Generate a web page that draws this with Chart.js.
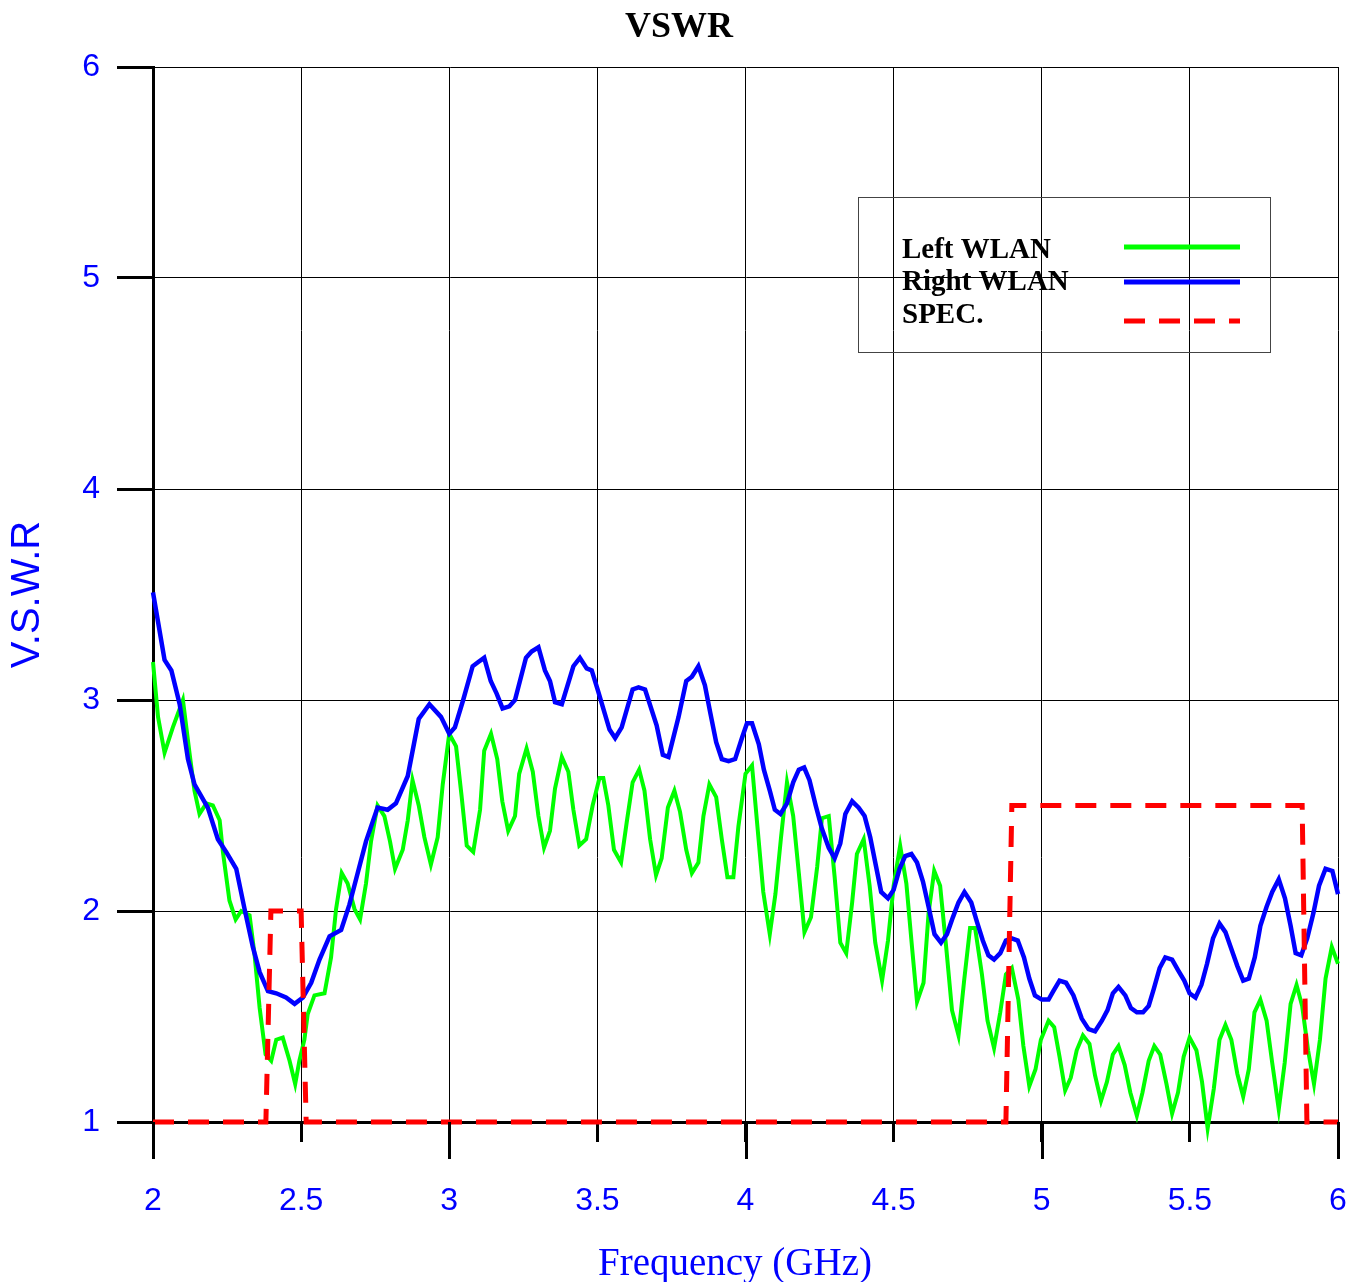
<!DOCTYPE html>
<html>
<head>
<meta charset="utf-8">
<title>VSWR</title>
<script src="https://cdn.jsdelivr.net/npm/chart.js@4.4.1/dist/chart.umd.min.js"></script>
<style>
  html, body { margin: 0; padding: 0; background: #fff; }
  #wrap { width: 1354px; height: 1282px; }
</style>
</head>
<body>
<div id="wrap"><canvas id="vswrChart" width="1354" height="1282"></canvas></div>
<script>
// tick labels
const xTickLabels = ['2', '2.5', '3', '3.5', '4', '4.5', '5', '5.5', '6'];
const yTickLabels = ['1', '2', '3', '4', '5', '6'];

// Left WLAN (green)
const leftFreq = [
  2.000, 2.017, 2.039, 2.067, 2.101, 2.124, 2.140, 2.157, 2.180, 2.202, 2.225, 2.236, 2.258, 2.279, 2.298, 2.326,
  2.343, 2.360, 2.380, 2.399, 2.416, 2.438, 2.461, 2.480, 2.494, 2.511, 2.522, 2.545, 2.579, 2.601, 2.618, 2.637,
  2.657, 2.680, 2.699, 2.719, 2.736, 2.758, 2.781, 2.800, 2.817, 2.843, 2.860, 2.876, 2.897, 2.916, 2.938, 2.961,
  2.978, 3.000, 3.023, 3.042, 3.059, 3.081, 3.104, 3.118, 3.141, 3.162, 3.179, 3.199, 3.222, 3.236, 3.261, 3.282,
  3.301, 3.320, 3.340, 3.357, 3.380, 3.402, 3.419, 3.439, 3.462, 3.484, 3.507, 3.520, 3.537, 3.556, 3.580, 3.599,
  3.619, 3.641, 3.659, 3.678, 3.698, 3.717, 3.738, 3.760, 3.779, 3.800, 3.819, 3.841, 3.858, 3.878, 3.901, 3.920,
  3.939, 3.959, 3.976, 4.000, 4.022, 4.039, 4.060, 4.082, 4.101, 4.120, 4.140, 4.161, 4.180, 4.199, 4.221, 4.242,
  4.258, 4.281, 4.301, 4.320, 4.340, 4.360, 4.376, 4.399, 4.419, 4.438, 4.461, 4.481, 4.500, 4.522, 4.543, 4.562,
  4.579, 4.601, 4.618, 4.637, 4.657, 4.678, 4.697, 4.719, 4.738, 4.758, 4.775, 4.798, 4.817, 4.839, 4.860, 4.879,
  4.899, 4.921, 4.938, 4.958, 4.979, 4.997, 5.023, 5.042, 5.060, 5.079, 5.098, 5.118, 5.139, 5.161, 5.180, 5.200,
  5.220, 5.240, 5.259, 5.280, 5.299, 5.321, 5.340, 5.361, 5.380, 5.400, 5.421, 5.440, 5.460, 5.479, 5.499, 5.522,
  5.541, 5.560, 5.581, 5.600, 5.620, 5.640, 5.660, 5.680, 5.699, 5.718, 5.738, 5.759, 5.778, 5.800, 5.820, 5.840,
  5.860, 5.879, 5.899, 5.919, 5.939, 5.958, 5.979, 6.000
];
const leftVswr = [
  3.18, 2.92, 2.75, 2.87, 3.00, 2.74, 2.57, 2.46, 2.51, 2.50, 2.43, 2.28, 2.05, 1.96, 2.00, 1.98,
  1.79, 1.54, 1.32, 1.29, 1.39, 1.40, 1.29, 1.18, 1.29, 1.39, 1.51, 1.60, 1.61, 1.78, 2.01, 2.18,
  2.13, 2.01, 1.96, 2.13, 2.33, 2.50, 2.45, 2.33, 2.20, 2.29, 2.43, 2.62, 2.50, 2.35, 2.22, 2.35,
  2.60, 2.84, 2.78, 2.54, 2.31, 2.28, 2.48, 2.76, 2.84, 2.72, 2.52, 2.38, 2.45, 2.65, 2.77, 2.66,
  2.45, 2.30, 2.38, 2.58, 2.73, 2.66, 2.48, 2.31, 2.34, 2.50, 2.63, 2.63, 2.50, 2.29, 2.23, 2.42,
  2.61, 2.67, 2.57, 2.34, 2.17, 2.25, 2.49, 2.57, 2.47, 2.29, 2.18, 2.23, 2.45, 2.60, 2.54, 2.34,
  2.16, 2.16, 2.40, 2.65, 2.69, 2.42, 2.09, 1.89, 2.08, 2.35, 2.61, 2.45, 2.18, 1.90, 1.97, 2.21,
  2.44, 2.45, 2.16, 1.85, 1.80, 2.04, 2.27, 2.34, 2.12, 1.85, 1.67, 1.86, 2.12, 2.31, 2.13, 1.83,
  1.57, 1.66, 1.99, 2.19, 2.12, 1.82, 1.53, 1.41, 1.67, 1.92, 1.92, 1.70, 1.48, 1.35, 1.52, 1.70,
  1.73, 1.58, 1.36, 1.17, 1.25, 1.39, 1.48, 1.45, 1.31, 1.15, 1.21, 1.34, 1.41, 1.37, 1.22, 1.10,
  1.19, 1.32, 1.36, 1.27, 1.14, 1.03, 1.14, 1.29, 1.36, 1.32, 1.18, 1.04, 1.14, 1.31, 1.40, 1.34,
  1.19, 0.97, 1.16, 1.39, 1.46, 1.39, 1.23, 1.12, 1.25, 1.52, 1.58, 1.48, 1.28, 1.06, 1.28, 1.56,
  1.65, 1.55, 1.34, 1.18, 1.39, 1.68, 1.83, 1.75
];

// Right WLAN (blue)
const rightFreq = [
  2.000, 2.039, 2.062, 2.090, 2.118, 2.140, 2.185, 2.219, 2.247, 2.281, 2.309, 2.337, 2.360, 2.388, 2.416, 2.449,
  2.478, 2.506, 2.534, 2.562, 2.596, 2.635, 2.663, 2.691, 2.719, 2.758, 2.792, 2.820, 2.860, 2.897, 2.933, 2.972,
  3.000, 3.019, 3.047, 3.079, 3.098, 3.118, 3.140, 3.160, 3.180, 3.203, 3.222, 3.259, 3.278, 3.301, 3.323, 3.340,
  3.357, 3.380, 3.419, 3.441, 3.464, 3.481, 3.503, 3.541, 3.560, 3.582, 3.619, 3.639, 3.661, 3.700, 3.721, 3.740,
  3.774, 3.800, 3.819, 3.841, 3.863, 3.881, 3.901, 3.920, 3.943, 3.965, 3.988, 4.005, 4.022, 4.045, 4.062, 4.082,
  4.099, 4.118, 4.140, 4.161, 4.180, 4.198, 4.216, 4.237, 4.258, 4.281, 4.301, 4.320, 4.337, 4.360, 4.382, 4.402,
  4.421, 4.438, 4.458, 4.481, 4.500, 4.520, 4.539, 4.560, 4.579, 4.599, 4.618, 4.638, 4.660, 4.680, 4.700, 4.719,
  4.739, 4.762, 4.781, 4.801, 4.820, 4.839, 4.860, 4.879, 4.899, 4.919, 4.940, 4.958, 4.977, 5.000, 5.023, 5.039,
  5.060, 5.082, 5.107, 5.135, 5.158, 5.180, 5.203, 5.222, 5.240, 5.259, 5.282, 5.301, 5.321, 5.342, 5.361, 5.378,
  5.398, 5.417, 5.440, 5.460, 5.481, 5.499, 5.519, 5.539, 5.558, 5.578, 5.600, 5.620, 5.640, 5.660, 5.680, 5.699,
  5.719, 5.738, 5.759, 5.778, 5.800, 5.821, 5.840, 5.857, 5.876, 5.896, 5.917, 5.936, 5.958, 5.981, 6.000
];
const rightVswr = [
  3.51, 3.19, 3.14, 2.98, 2.72, 2.60, 2.49, 2.34, 2.28, 2.20, 2.01, 1.83, 1.71, 1.62, 1.61, 1.59,
  1.56, 1.59, 1.66, 1.77, 1.88, 1.91, 2.03, 2.18, 2.33, 2.49, 2.48, 2.51, 2.64, 2.91, 2.98, 2.92,
  2.84, 2.87, 3.00, 3.16, 3.18, 3.20, 3.09, 3.03, 2.96, 2.97, 3.00, 3.20, 3.23, 3.25, 3.14, 3.09,
  2.99, 2.98, 3.16, 3.20, 3.15, 3.14, 3.04, 2.86, 2.82, 2.87, 3.05, 3.06, 3.05, 2.88, 2.74, 2.73,
  2.92, 3.09, 3.11, 3.16, 3.07, 2.94, 2.80, 2.72, 2.71, 2.72, 2.82, 2.89, 2.89, 2.79, 2.67, 2.57,
  2.48, 2.46, 2.51, 2.61, 2.67, 2.68, 2.62, 2.50, 2.39, 2.30, 2.25, 2.32, 2.46, 2.52, 2.49, 2.45,
  2.35, 2.23, 2.09, 2.06, 2.10, 2.20, 2.26, 2.27, 2.23, 2.14, 2.02, 1.89, 1.85, 1.89, 1.97, 2.04,
  2.09, 2.04, 1.95, 1.86, 1.79, 1.77, 1.80, 1.86, 1.87, 1.86, 1.78, 1.68, 1.60, 1.58, 1.58, 1.62,
  1.67, 1.66, 1.60, 1.49, 1.44, 1.43, 1.48, 1.53, 1.61, 1.64, 1.60, 1.54, 1.52, 1.52, 1.55, 1.63,
  1.73, 1.78, 1.77, 1.72, 1.67, 1.61, 1.59, 1.65, 1.75, 1.87, 1.94, 1.90, 1.82, 1.74, 1.67, 1.68,
  1.78, 1.93, 2.02, 2.09, 2.15, 2.06, 1.93, 1.80, 1.79, 1.87, 1.99, 2.12, 2.20, 2.19, 2.08
];

// SPEC. (red dashed)
const specFreq = [2.000, 2.381, 2.398, 2.500, 2.517, 4.879, 4.899, 5.879, 5.895, 6.000];
const specVswr = [1, 1, 2, 2, 1, 1, 2.5, 2.5, 1, 1];

const toPoints = (xs, ys) => xs.map((x, i) => ({ x, y: ys[i] }));

const decorPlugin = {
  id: 'decor',
  afterDraw(chart) {
    const { ctx, chartArea, scales } = chart;
    ctx.save();

    // title
    ctx.fillStyle = '#000';
    ctx.font = 'bold 36px "Liberation Serif"';
    ctx.textAlign = 'center';
    ctx.textBaseline = 'middle';
    ctx.fillText('VSWR', 679, 28);

    // x axis title (a bit left of the plot centre, like the original)
    ctx.fillStyle = '#0000ff';
    ctx.font = '39px "Liberation Serif"';
    ctx.textBaseline = 'alphabetic';
    ctx.fillText('Frequency (GHz)', 735, 1275);

    // longer ticks at whole GHz
    ctx.strokeStyle = '#000';
    ctx.lineWidth = 3;
    for (let v = 2; v <= 6; v++) {
      const px = Math.round(scales.x.getPixelForValue(v)) + 0.5;
      ctx.beginPath();
      ctx.moveTo(px, chartArea.bottom);
      ctx.lineTo(px, chartArea.bottom + 37);
      ctx.stroke();
    }

    // legend box
    ctx.strokeStyle = '#444';
    ctx.lineWidth = 1;
    ctx.strokeRect(858.5, 197.5, 412, 155);

    const rows = [
      { text: 'Left WLAN', base: 258, y: 247 },
      { text: 'Right WLAN', base: 290, y: 282 },
      { text: 'SPEC.', base: 323, y: 321 }
    ];
    ctx.font = 'bold 29px "Liberation Serif"';
    ctx.textAlign = 'left';
    rows.forEach((r, i) => {
      const ds = chart.data.datasets[i];
      ctx.fillStyle = '#000';
      ctx.fillText(r.text, 902, r.base);
      ctx.strokeStyle = ds.borderColor;
      ctx.lineWidth = 5;
      ctx.setLineDash(ds.borderDash || []);
      ctx.beginPath();
      ctx.moveTo(1124, r.y);
      ctx.lineTo(1240, r.y);
      ctx.stroke();
      ctx.setLineDash([]);
    });
    ctx.restore();
  }
};

new Chart(document.getElementById('vswrChart'), {
  type: 'line',
  data: {
    datasets: [
      {
        label: 'Left WLAN',
        data: toPoints(leftFreq, leftVswr),
        borderColor: '#00ff00',
        borderWidth: 4,
        pointRadius: 0,
        tension: 0,
        clip: false,
        order: 3
      },
      {
        label: 'Right WLAN',
        data: toPoints(rightFreq, rightVswr),
        borderColor: '#0000ff',
        borderWidth: 4.5,
        pointRadius: 0,
        tension: 0,
        clip: false,
        order: 2
      },
      {
        label: 'SPEC.',
        data: toPoints(specFreq, specVswr),
        borderColor: '#ff0000',
        borderWidth: 5,
        borderDash: [21, 14],
        pointRadius: 0,
        tension: 0,
        clip: false,
        order: 1
      }
    ]
  },
  options: {
    responsive: false,
    animation: false,
    layout: { padding: { top: 67, right: 16, left: 0, bottom: 0 } },
    plugins: {
      legend: { display: false },
      title: { display: false },
      tooltip: { enabled: false }
    },
    scales: {
      x: {
        type: 'linear',
        min: 2,
        max: 6,
        afterFit: (s) => {
          s.height = 160;
          // labels sit low, don't let that padding eat into the plot width
          s.paddingLeft = 0;
          s.paddingRight = 0;
        },
        ticks: {
          stepSize: 0.5,
          autoSkip: false,
          maxRotation: 0,
          padding: 40,
          color: '#0000ff',
          font: { family: 'Liberation Sans', size: 32 },
          callback: (v, i) => xTickLabels[i]
        },
        grid: { color: '#000', lineWidth: 1, tickLength: 20, tickWidth: 3, tickColor: '#000' },
        border: { color: '#000', width: 3 },
        title: { display: false }
      },
      y: {
        type: 'linear',
        min: 1,
        max: 6,
        afterFit: (s) => { s.width = 153; },
        ticks: {
          stepSize: 1,
          padding: 17,
          color: '#0000ff',
          font: { family: 'Liberation Sans', size: 32 },
          callback: (v, i) => yTickLabels[i]
        },
        grid: { color: '#000', lineWidth: 1, tickLength: 36, tickWidth: 3, tickColor: '#000' },
        border: { color: '#000', width: 3 },
        title: {
          display: true,
          text: 'V.S.W.R',
          color: '#0000ff',
          font: { family: 'Liberation Sans', size: 40, lineHeight: 1 },
          padding: { top: 8, bottom: 0 }
        }
      }
    }
  },
  plugins: [decorPlugin]
});
</script>
</body>
</html>
